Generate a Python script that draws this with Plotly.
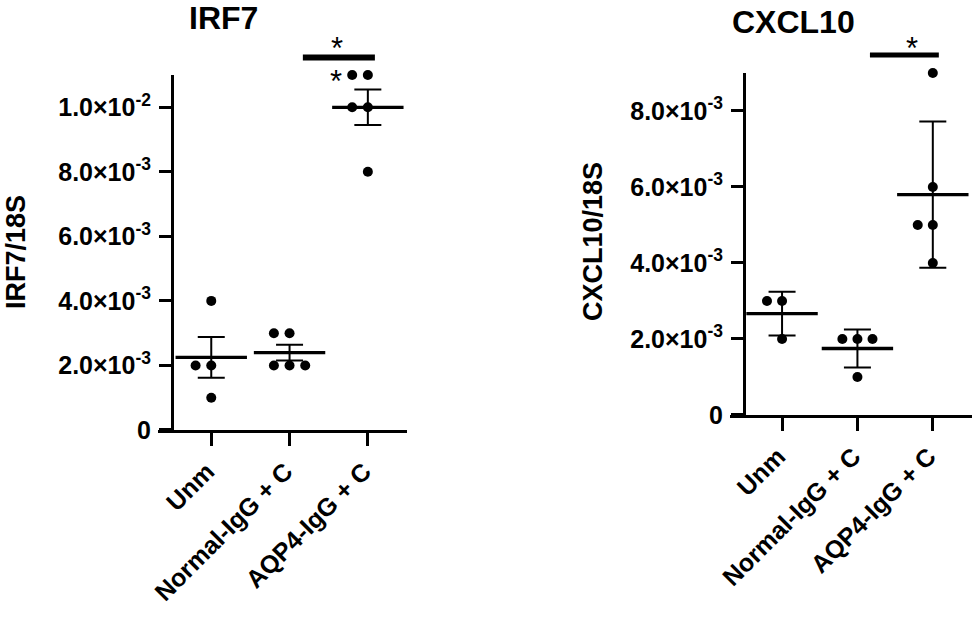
# IRF7 e CXCL10 / 18S - dois paineis de pontos com media e barras de erro

import numpy as np
import plotly.graph_objects as go

grupos = ['Unm', 'Normal-IgG + C', 'AQP4-IgG + C']

# valores (razao sobre 18S)
irf7_unm = [4e-3, 2e-3, 2e-3, 1e-3]
irf7_normal = [3e-3, 3e-3, 2e-3, 2e-3, 2e-3]
irf7_aqp4 = [11e-3, 11e-3, 10e-3, 10e-3, 8e-3]

cxcl10_unm = [3e-3, 3e-3, 2e-3]
cxcl10_normal = [2e-3, 2e-3, 2e-3, 1e-3]
cxcl10_aqp4 = [9e-3, 6e-3, 5e-3, 5e-3, 4e-3]

irf7_ticks = [0, 2e-3, 4e-3, 6e-3, 8e-3, 10e-3]
irf7_ticktext = ['0', '2.0×10<sup>-3</sup>', '4.0×10<sup>-3</sup>', '6.0×10<sup>-3</sup>',
                 '8.0×10<sup>-3</sup>', '1.0×10<sup>-2</sup>']
cxcl10_ticks = [0, 2e-3, 4e-3, 6e-3, 8e-3]
cxcl10_ticktext = ['0', '2.0×10<sup>-3</sup>', '4.0×10<sup>-3</sup>', '6.0×10<sup>-3</sup>',
                   '8.0×10<sup>-3</sup>']

FONTE = 'Liberation Sans'
PASSO = 0.2  # afastamento dos pontos repetidos (unidades de categoria)


def espalha(valores, centro):
    # pontos iguais ficam lado a lado: 0, -1, +1, -2, ...
    xs = []
    vistos = {}
    for v in valores:
        k = vistos.get(v, 0)
        vistos[v] = k + 1
        lado = 0 if k == 0 else (-((k + 1) // 2) if k % 2 == 1 else k // 2)
        xs.append(centro + lado * PASSO)
    return xs


fig = go.Figure()


def painel(dados, xa, ya, erro):
    for i, vals in enumerate(dados):
        vals = np.array(vals)
        media = vals.mean()
        dp = vals.std(ddof=1)
        barra = dp / np.sqrt(len(vals)) if erro == 'sem' else dp
        # pontos
        fig.add_trace(go.Scatter(
            x=espalha(list(vals), i), y=vals, mode='markers',
            marker=dict(color='black', size=10), xaxis=xa, yaxis=ya,
            showlegend=False, hoverinfo='y', cliponaxis=False))
        # media + barra de erro
        fig.add_trace(go.Scatter(
            x=[i], y=[media], mode='markers',
            marker=dict(symbol='line-ew', size=51, line=dict(color='black', width=3.3)),
            error_y=dict(type='data', array=[barra], color='black', thickness=2, width=13.5),
            xaxis=xa, yaxis=ya, showlegend=False, hoverinfo='y', cliponaxis=False))


painel([irf7_unm, irf7_normal, irf7_aqp4], 'x', 'y', 'sem')
painel([cxcl10_unm, cxcl10_normal, cxcl10_aqp4], 'x2', 'y2', 'sd')

eixo_x = dict(tickmode='array', tickvals=[0, 1, 2], ticktext=grupos, tickangle=-45,
              showline=True, linecolor='black', linewidth=3, ticks='outside',
              ticklen=13, tickwidth=3, tickcolor='black', showgrid=False, zeroline=False,
              ticklabelstandoff=1, ticklabelshift=-4, automargin=False,
              tickfont=dict(family=FONTE, size=25, color='black', weight='bold'))
eixo_y = dict(showline=True, linecolor='black', linewidth=3, ticks='outside',
              ticklen=12, tickwidth=3, tickcolor='black', showgrid=False, zeroline=False,
              tickmode='array', anchor='free', ticklabelstandoff=3, automargin=False,
              tickfont=dict(family=FONTE, size=25, color='black', weight='bold'))

IRF7_MAX = 0.011
CXCL10_MAX = 0.009
irf7_xr = [-0.68, 2.5]
cxcl10_xr = [-0.69, 2.52]

fig.update_layout(
    width=976, height=617,
    margin=dict(l=0, r=0, t=0, b=0),
    paper_bgcolor='white', plot_bgcolor='white',
    xaxis=dict(eixo_x, domain=[0.1619, 0.4170], range=irf7_xr, anchor='y'),
    yaxis=dict(eixo_y, domain=[0.3031, 0.8784], range=[0, IRF7_MAX], position=0.1762,
               tickvals=irf7_ticks, ticktext=irf7_ticktext),
    xaxis2=dict(eixo_x, domain=[0.7480, 0.9959], range=cxcl10_xr, anchor='y2'),
    yaxis2=dict(eixo_y, domain=[0.3274, 0.8817], range=[0, CXCL10_MAX], position=0.7623,
                tickvals=cxcl10_ticks, ticktext=cxcl10_ticktext),
)


def frac(v, r):
    return (v - r[0]) / (r[1] - r[0])


# barras de significancia (fora da area do grafico, em coordenadas de dominio)
fig.add_shape(type='line', xref='x domain', yref='y domain',
              x0=frac(1.17, irf7_xr), x1=frac(2.09, irf7_xr),
              y0=0.011545 / IRF7_MAX, y1=0.011545 / IRF7_MAX,
              line=dict(color='black', width=6))
fig.add_shape(type='line', xref='x2 domain', yref='y2 domain',
              x0=frac(1.166, cxcl10_xr), x1=frac(2.08, cxcl10_xr),
              y0=0.009474 / CXCL10_MAX, y1=0.009474 / CXCL10_MAX,
              line=dict(color='black', width=5))

# asteriscos
anot = [
    dict(x=frac(1.61, irf7_xr), y=0.0120 / IRF7_MAX, xref='x domain', yref='y domain'),
    dict(x=frac(1.59, irf7_xr), y=0.0110 / IRF7_MAX, xref='x domain', yref='y domain'),
    dict(x=frac(1.72, cxcl10_xr), y=0.0098 / CXCL10_MAX, xref='x2 domain', yref='y2 domain'),
]
for a in anot:
    fig.add_annotation(a, text='*', showarrow=False, xanchor='center', yanchor='middle',
                       yshift=-6, font=dict(family=FONTE, size=31, color='black'))

# titulos
titulos = [
    (223, 18, 'IRF7', 0, 32),
    (793, 22, 'CXCL10', 0, 32),
    (16, 252, 'IRF7/18S', -90, 27),
    (593, 242, 'CXCL10/18S', -90, 27),
]
for px, py, txt, ang, tam in titulos:
    fig.add_annotation(x=px / 976, y=1 - py / 617, xref='paper', yref='paper', text=txt,
                       showarrow=False, xanchor='center', yanchor='middle', textangle=ang,
                       font=dict(family=FONTE, size=tam, color='black', weight='bold'))

fig.write_html('out.html', config={'displayModeBar': False},
               post_script="document.body.style.margin='0';")
